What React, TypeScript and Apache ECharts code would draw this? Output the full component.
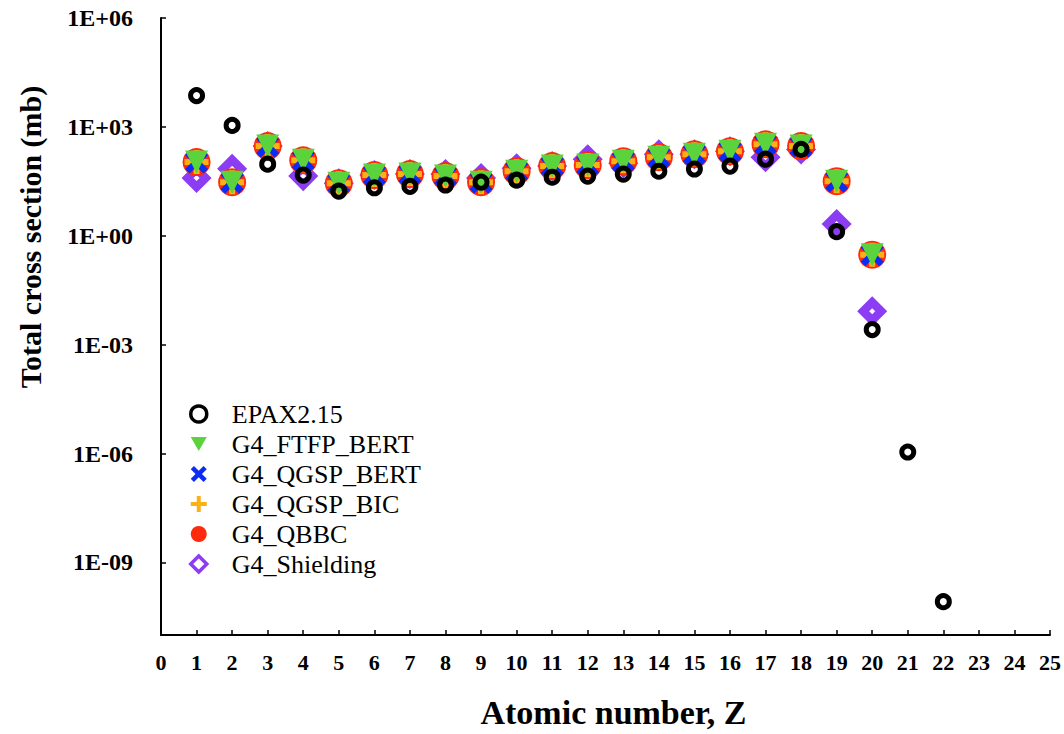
import React, { useEffect, useRef } from "react";
import * as echarts from "echarts";

const atomicNumbers = [1, 2, 3, 4, 5, 6, 7, 8, 9, 10, 11, 12, 13, 14, 15, 16, 17, 18, 19, 20, 21, 22];
const epax = [7.3e3, 1.1e3, 94, 47, 17, 21, 23, 25, 30, 34, 41, 44, 50, 60, 69, 83, 129, 240, 1.3, 2.6e-3, 1.1e-6, 8.3e-11];
const ftfpBert = [107, 30, 295, 120, 28, 47, 50, 44, 30, 60, 83, 89, 113, 146, 177, 213, 331, 295, 32, 0.3];
const qgspBert = [107, 30, 295, 120, 28, 47, 50, 44, 30, 60, 83, 89, 113, 146, 177, 213, 331, 295, 32, 0.3];
const qgspBic = [107, 30, 295, 120, 28, 47, 50, 44, 30, 60, 83, 89, 113, 146, 177, 213, 331, 295, 32, 0.3];
const qbbc = [107, 30, 295, 120, 28, 47, 50, 44, 30, 60, 83, 89, 113, 146, 177, 213, 331, 295, 32, 0.3];
const shielding = [39, 70, 295, 44, 28, 47, 50, 50, 39, 73, 83, 129, 100, 177, 177, 213, 146, 240, 2.1, 8.3e-3];
const yTickExponents = [-9, -6, -3, 0, 3, 6];
const xTicks = [0, 1, 2, 3, 4, 5, 6, 7, 8, 9, 10, 11, 12, 13, 14, 15, 16, 17, 18, 19, 20, 21, 22, 23, 24, 25];

const FONT = "'Liberation Serif', 'Times New Roman', serif";
const PLUS = "path://M3,0 h2 v3 h3 v2 h-3 v3 h-2 v-3 h-3 v-2 h3 z";
const CROSS =
  "path://M3.536,-2.121 L1.414,0 L3.536,2.121 L2.121,3.536 L0,1.414 L-2.121,3.536 L-3.536,2.121 L-1.414,0 L-3.536,-2.121 L-2.121,-3.536 L0,-1.414 L2.121,-3.536 Z";
const TRI_DOWN = "path://M0,0 L10,0 L5,8.7 Z";

function toPoints(values: number[]) {
  return values.map((v, i) => [atomicNumbers[i], Math.log10(v)]);
}

function expLabel(v: number) {
  const a = Math.abs(Math.round(v));
  return "1E" + (v < 0 ? "-" : "+") + (a < 10 ? "0" + a : String(a));
}

export default function App() {
  const ref = useRef<HTMLDivElement>(null);
  useEffect(() => {
    if (!ref.current) return;
    const chart = echarts.init(ref.current, null, { renderer: "svg" });
    chart.setOption({
      animation: false,
      backgroundColor: "#ffffff",
      grid: { left: 161, top: 18, right: 14, bottom: 96, containLabel: false },
      legend: {
        orient: "vertical",
        left: 184,
        top: 396,
        itemWidth: 16,
        itemHeight: 16,
        itemGap: 4,
        textStyle: { fontFamily: FONT, fontSize: 26, lineHeight: 24, color: "#000", padding: [0, 0, 0, 20] },
        data: [
          { name: "EPAX2.15", itemStyle: { borderWidth: 3.5 } },
          { name: "G4_FTFP_BERT" },
          { name: "G4_QGSP_BERT" },
          { name: "G4_QGSP_BIC" },
          { name: "G4_QBBC" },
          { name: "G4_Shielding", itemStyle: { borderWidth: 3.5 } },
        ],
      },
      xAxis: {
        type: "value",
        min: 0,
        max: 25,
        interval: 1,
        name: "Atomic number, Z",
        nameLocation: "middle",
        nameGap: 60,
        nameTextStyle: { fontFamily: FONT, fontSize: 34, fontWeight: "bold", color: "#000", padding: [0, 0, 0, 16] },
        axisLine: { onZero: false, lineStyle: { color: "#000", width: 2 } },
        axisTick: { inside: true, length: 5, lineStyle: { color: "#000", width: 1.5 } },
        axisLabel: {
          customValues: xTicks,
          margin: 16,
          fontFamily: FONT,
          fontSize: 22,
          fontWeight: "bold",
          color: "#000",
        },
        splitLine: { show: false },
      },
      yAxis: {
        type: "value",
        min: -11,
        max: 6,
        axisLine: { show: true, onZero: false, lineStyle: { color: "#000", width: 2 } },
        axisTick: { show: true, inside: true, length: 5, customValues: yTickExponents, lineStyle: { color: "#000", width: 1.5 } },
        axisLabel: {
          customValues: yTickExponents,
          formatter: (v: number) => expLabel(v),
          margin: 28,
          fontFamily: FONT,
          fontSize: 24,
          fontWeight: "bold",
          color: "#000",
        },
        splitLine: { show: false },
      },
      graphic: [
        {
          type: "text",
          x: 30,
          y: 237,
          rotation: Math.PI / 2,
          style: {
            text: "Total cross section (mb)",
            fontFamily: FONT,
            fontSize: 30,
            fontWeight: "bold",
            fill: "#000",
            align: "center",
            verticalAlign: "middle",
          },
        },
      ],
      series: [
        {
          name: "EPAX2.15",
          type: "scatter",
          z: 7,
          symbol: "circle",
          symbolSize: 12,
          itemStyle: { color: "rgba(0,0,0,0)", borderColor: "#000", borderWidth: 5, opacity: 1 },
          data: toPoints(epax),
        },
        {
          name: "G4_FTFP_BERT",
          type: "scatter",
          z: 6,
          symbol: TRI_DOWN,
          symbolSize: 23,
          itemStyle: { color: "#5ad33c", opacity: 1 },
          data: toPoints(ftfpBert),
        },
        {
          name: "G4_QGSP_BERT",
          type: "scatter",
          z: 5,
          symbol: CROSS,
          symbolSize: 23,
          itemStyle: { color: "#0a2cf5", opacity: 1 },
          data: toPoints(qgspBert),
        },
        {
          name: "G4_QGSP_BIC",
          type: "scatter",
          z: 4,
          symbol: PLUS,
          symbolSize: 24,
          itemStyle: { color: "#fbb116", opacity: 1 },
          data: toPoints(qgspBic),
        },
        {
          name: "G4_QBBC",
          type: "scatter",
          z: 3,
          symbol: "circle",
          symbolSize: 28,
          itemStyle: { color: "#ff2a0e", opacity: 1 },
          data: toPoints(qbbc),
        },
        {
          name: "G4_Shielding",
          type: "scatter",
          z: 2,
          symbol: "diamond",
          symbolSize: 18,
          itemStyle: { color: "rgba(255,255,255,0)", borderColor: "#8c3cf2", borderWidth: 8.5, opacity: 1 },
          data: toPoints(shielding),
        },
      ],
    });
    return () => chart.dispose();
  }, []);
  return <div ref={ref} style={{ width: 1064, height: 734, position: "absolute", left: 0, top: 0 }} />;
}
